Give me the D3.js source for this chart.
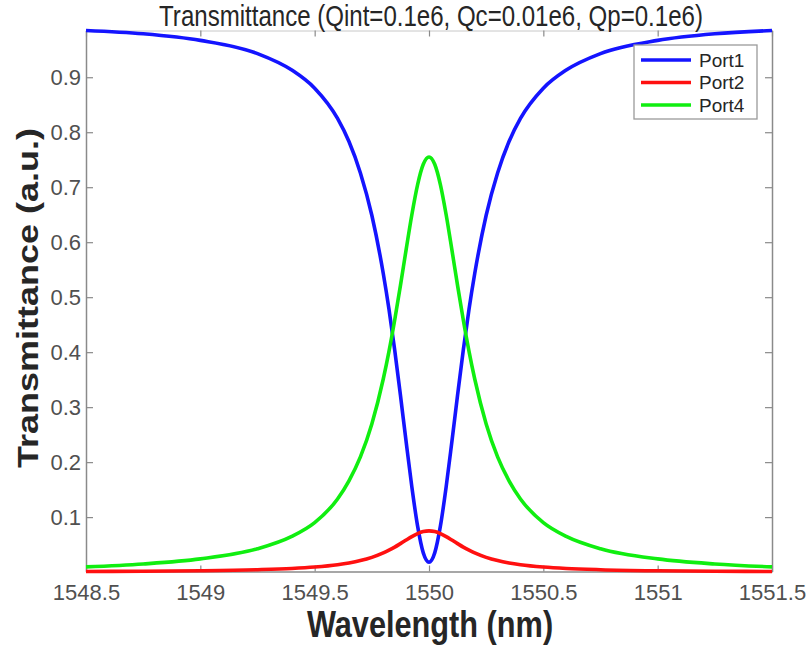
<!DOCTYPE html>
<html><head><meta charset="utf-8">
<script src="https://cdn.jsdelivr.net/npm/d3@7"></script>
<style>
body{margin:0;background:#fff;}
svg{display:block;}
</style></head>
<body>
<svg id="chart" width="811" height="648"></svg>
<script>
const wavelength = [1548.5, 1548.75, 1549, 1549.25, 1549.4, 1549.5, 1549.6, 1549.65, 1549.7, 1549.75, 1549.8, 1549.825, 1549.85, 1549.875, 1549.9, 1549.925, 1549.95, 1549.975, 1550,
  1550.025, 1550.05, 1550.075, 1550.1, 1550.125, 1550.15, 1550.175, 1550.2, 1550.25, 1550.3, 1550.35, 1550.4, 1550.5, 1550.6, 1550.75, 1551, 1551.25, 1551.5];
const port1 = [0.985, 0.979, 0.967, 0.943, 0.913, 0.880, 0.825, 0.783, 0.726, 0.649, 0.543, 0.478, 0.404, 0.322, 0.237, 0.155, 0.084, 0.035, 0.018,
  0.035, 0.084, 0.155, 0.237, 0.322, 0.404, 0.478, 0.543, 0.649, 0.726, 0.783, 0.825, 0.880, 0.913, 0.943, 0.967, 0.979, 0.985];
const port2 = [0.0011, 0.0016, 0.0025, 0.0044, 0.0066, 0.0092, 0.0134, 0.0166, 0.0209, 0.0268, 0.0349, 0.0399, 0.0455, 0.0518, 0.0583, 0.0646, 0.0700, 0.0737, 0.0750,
  0.0737, 0.0700, 0.0646, 0.0583, 0.0518, 0.0455, 0.0399, 0.0349, 0.0268, 0.0209, 0.0166, 0.0134, 0.0092, 0.0066, 0.0044, 0.0025, 0.0016, 0.0011];
const port4 = [0.0095, 0.0148, 0.0240, 0.0425, 0.0650, 0.0900, 0.1330, 0.1660, 0.2095, 0.2695, 0.3512, 0.4016, 0.4585, 0.5210, 0.5865, 0.6500, 0.7044, 0.7417, 0.7550,
  0.7417, 0.7044, 0.6500, 0.5865, 0.5210, 0.4585, 0.4016, 0.3512, 0.2695, 0.2095, 0.1660, 0.1330, 0.0900, 0.0650, 0.0425, 0.0240, 0.0148, 0.0095];
const seriesNames = ["Port1", "Port2", "Port4"];
const seriesColors = ["#1414ff", "#ff1010", "#10ee10"];
const xTicks = [1548.5, 1549, 1549.5, 1550, 1550.5, 1551, 1551.5];
const yTicks = [0.1, 0.2, 0.3, 0.4, 0.5, 0.6, 0.7, 0.8, 0.9];
const titleText = "Transmittance (Qint=0.1e6, Qc=0.01e6, Qp=0.1e6)";
const xLabel = "Wavelength (nm)";
const yLabel = "Transmittance (a.u.)";

const svg = d3.select("#chart");
const L = 86, R = 772, T = 30.5, B = 571.5;
const SQ = 0.83; // horizontal squeeze of title/label text
const FONT = "Liberation Sans, Arial, sans-serif";
const x = d3.scaleLinear().domain([1548.5, 1551.5]).range([L, R]);
const y = d3.scaleLinear().domain([0.0011, 0.985]).range([B, T]);
const frame = "#8a8a8a";
const tickCol = "#505050";

// axes
const gx = svg.append("g").attr("transform", `translate(0,${B})`)
  .call(d3.axisBottom(x).tickValues(xTicks).tickSizeInner(-6).tickSizeOuter(0).tickPadding(13).tickFormat(d => String(d)));
const gxTop = svg.append("g").attr("transform", `translate(0,${T})`)
  .call(d3.axisTop(x).tickValues(xTicks).tickSizeInner(-6).tickSizeOuter(0).tickFormat(""));
const gy = svg.append("g").attr("transform", `translate(${L},0)`)
  .call(d3.axisLeft(y).tickValues(yTicks).tickSizeInner(-7).tickSizeOuter(0).tickPadding(5).tickFormat(d3.format(".1f")));
const gyR = svg.append("g").attr("transform", `translate(${R},0)`)
  .call(d3.axisRight(y).tickValues(yTicks).tickSizeInner(-7).tickSizeOuter(0).tickFormat(""));
[gx, gxTop, gy, gyR].forEach(g => {
  g.select(".domain").attr("stroke", frame).attr("stroke-width", 1.5);
  g.selectAll(".tick line").attr("stroke", frame).attr("stroke-width", 1.2);
  g.selectAll(".tick text").attr("fill", tickCol).attr("font-family", FONT).attr("font-size", 22);
});
gxTop.select(".domain").attr("stroke", "#c8c8c8").attr("stroke-width", 1);
gy.selectAll(".tick text").attr("x", -5);

// lines
const line = d3.line().x((d, i) => x(wavelength[i])).y(d => y(d)).curve(d3.curveMonotoneX);
const series = [port1, port2, port4];
series.forEach((s, k) => {
  svg.append("path").datum(s).attr("d", line).attr("fill", "none")
    .attr("stroke", seriesColors[k]).attr("stroke-width", 3.6).attr("stroke-linejoin", "round");
});

// title and labels
function sqText(px, py, txt, size, weight, fill, rotate) {
  const g = svg.append("g").attr("transform", `translate(${px},${py})` + (rotate ? ` rotate(${rotate})` : ""));
  g.append("text").attr("transform", rotate ? `scale(1,${SQ})` : `scale(${SQ},1)`)
    .attr("text-anchor", "middle").attr("font-family", FONT)
    .attr("font-size", size).attr("font-weight", weight).attr("fill", fill).text(txt);
}
sqText(431, 26, titleText, 29, "normal", "#262626");
sqText(430, 637, xLabel, 37, "bold", "#262626");
sqText(38, 298, yLabel, 36, "bold", "#262626", -90);

// legend
const lg = svg.append("g");
lg.append("rect").attr("x", 634).attr("y", 45).attr("width", 123).attr("height", 74)
  .attr("fill", "#fff").attr("stroke", "#9a9a9a").attr("stroke-width", 1.3);
seriesNames.forEach((n, k) => {
  const yy = 60 + k * 22.5;
  lg.append("line").attr("x1", 641).attr("x2", 691).attr("y1", yy).attr("y2", yy)
    .attr("stroke", seriesColors[k]).attr("stroke-width", 3.6);
  lg.append("text").attr("x", 699).attr("y", yy + 6.8).attr("font-family", FONT)
    .attr("font-size", 19).attr("fill", "#262626").text(n);
});
</script>
</body></html>
